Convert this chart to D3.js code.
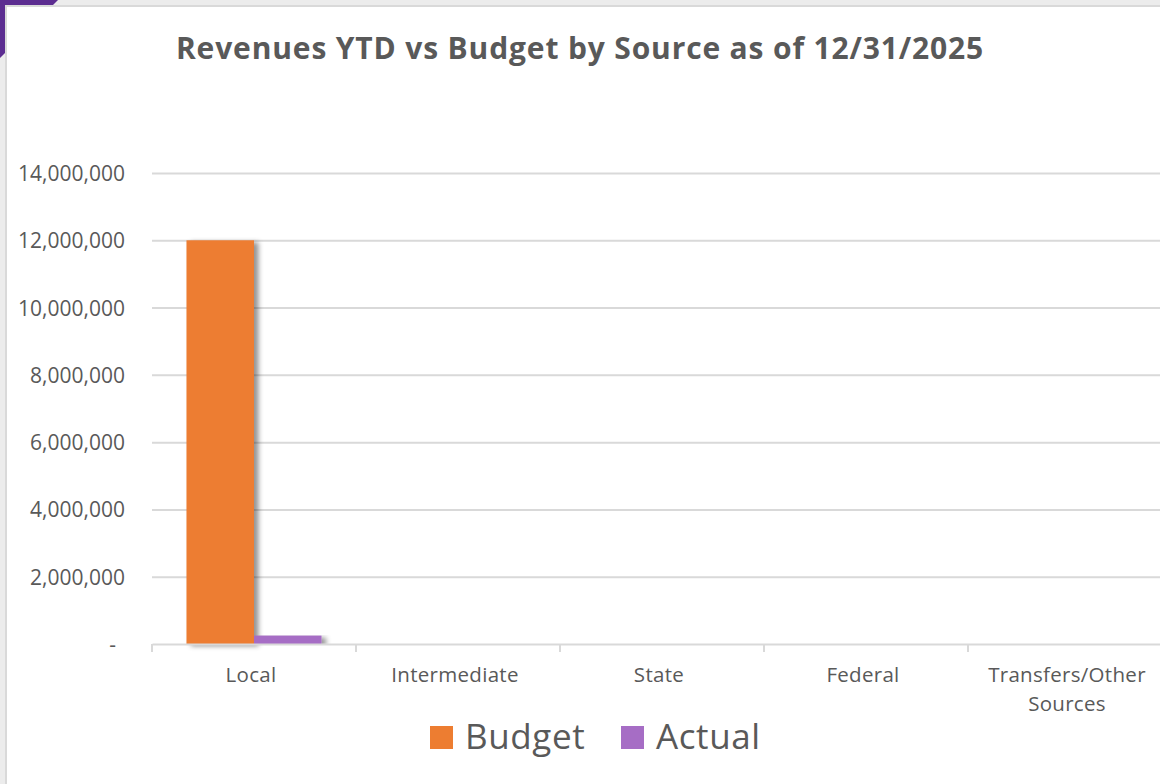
<!DOCTYPE html>
<html>
<head>
<meta charset="utf-8">
<script src="https://cdn.jsdelivr.net/npm/d3@7/dist/d3.min.js"></script>
<style>
  html, body { margin: 0; padding: 0; background: #ffffff; }
  svg { display: block; }
  text { font-family: "Open Sans", Lato, sans-serif; }
</style>
</head>
<body>
<svg id="chart" width="1160" height="784"></svg>
<script>
// Revenue sources and the two series shown for each
const categories = ["Local", "Intermediate", "State", "Federal", "Transfers/Other Sources"];
const categoryLines = [["Local"], ["Intermediate"], ["State"], ["Federal"], ["Transfers/Other", "Sources"]];
const seriesNames = ["Budget", "Actual"];
const budgetValues = [12000000, 0, 0, 0, 0];
const actualValues = [250000, 0, 0, 0, 0];
const yTicks = [0, 2000000, 4000000, 6000000, 8000000, 10000000, 12000000, 14000000];
const titleText = "Revenues YTD vs Budget by Source as of 12/31/2025";

const colors = { Budget: "#ED7D31", Actual: "#A66DC5" };
const textColor = "#595959";
const gridColor = "#d9d9d9";

const svg = d3.select("#chart");
const W = 1160, H = 784;

// Frame: light strip, purple corner accent, white panel
svg.append("rect").attr("width", W).attr("height", H).attr("fill", "#ececec");
svg.append("polygon").attr("points", "0,0 58,0 0,58").attr("fill", "#5C2D91");
svg.append("rect").attr("x", 5).attr("y", 5).attr("width", W).attr("height", H).attr("fill", "#d9d9d9");
svg.append("rect").attr("x", 7).attr("y", 7).attr("width", W).attr("height", H).attr("fill", "#ffffff");

// Bar shadow
const defs = svg.append("defs");
const f = defs.append("filter").attr("id", "barShadow")
  .attr("x", "-20%").attr("y", "-5%").attr("width", "160%").attr("height", "115%");
f.append("feDropShadow").attr("dx", 4.5).attr("dy", 2).attr("stdDeviation", 2.8)
  .attr("flood-color", "#000").attr("flood-opacity", 0.42);

// Scales
const plot = { left: 152, right: 1172, top: 173, bottom: 644 };
const x = d3.scaleBand().domain(categories).range([plot.left, plot.right])
  .paddingInner(0.338).paddingOuter(0.169);
const xs = d3.scaleBand().domain(seriesNames).range([0, x.bandwidth()]);
const y = d3.scaleLinear().domain([0, 14000000]).range([plot.bottom, plot.top]);

// Title
svg.append("text").attr("x", 580).attr("y", 59).attr("text-anchor", "middle")
  .attr("font-size", 30).attr("font-weight", 700).attr("letter-spacing", 0.85)
  .attr("fill", textColor)
  .text(titleText);

// Gridlines and value labels
const yAxisG = svg.append("g").attr("transform", `translate(${plot.left},0)`)
  .call(d3.axisLeft(y).tickValues(yTicks)
    .tickSize(-(plot.right - plot.left)).tickPadding(27)
    .tickFormat(d => d === 0 ? "-" : d3.format(",")(d)));
yAxisG.select(".domain").remove();
yAxisG.selectAll(".tick line").attr("stroke", gridColor).attr("stroke-width", 2)
  .filter(d => d === 0).remove();
yAxisG.selectAll(".tick text").attr("font-size", 21).attr("fill", textColor)
  .attr("font-family", "'Open Sans', sans-serif")
  .attr("dy", "0.36em")
  .attr("dx", d => d === 0 ? -9 : 0);

// Bars
const rows = categories.map((c, i) => ({ cat: c, Budget: budgetValues[i], Actual: actualValues[i] }));
const groups = svg.append("g").selectAll("g").data(rows).join("g")
  .attr("transform", d => `translate(${x(d.cat)},0)`);
groups.selectAll("rect")
  .data(d => seriesNames.map(s => ({ s, v: d[s] })).filter(e => e.v > 0))
  .join("rect")
  .attr("x", e => xs(e.s))
  .attr("y", e => y(e.v))
  .attr("width", xs.bandwidth())
  .attr("height", e => y(0) - y(e.v))
  .attr("fill", e => colors[e.s])
  .attr("filter", "url(#barShadow)");

// Category axis
const xAxisG = svg.append("g").attr("transform", `translate(0,${plot.bottom})`)
  .call(d3.axisBottom(x).tickSize(0).tickPadding(0).tickFormat(""));
xAxisG.select(".domain").attr("stroke", gridColor).attr("stroke-width", 2);
xAxisG.selectAll(".tick").remove();
const step = x.step();
d3.range(categories.length + 1).forEach(i => {
  const bx = plot.left + i * step;
  xAxisG.append("line").attr("x1", bx).attr("x2", bx).attr("y1", 0).attr("y2", 8)
    .attr("stroke", gridColor).attr("stroke-width", 2);
});
categories.forEach((c, i) => {
  const cx = x(c) + x.bandwidth() / 2 - 3;
  const t = svg.append("text").attr("x", cx).attr("y", 682)
    .attr("text-anchor", "middle").attr("font-size", 20.5).attr("letter-spacing", 0.3)
    .attr("fill", textColor);
  categoryLines[i].forEach((ln, j) => {
    t.append("tspan").attr("x", cx).attr("dy", j === 0 ? 0 : 29).text(ln);
  });
});

// Legend
const legend = [
  { name: "Budget", sx: 430, tx: 465 },
  { name: "Actual", sx: 621, tx: 656 }
];
legend.forEach(l => {
  svg.append("rect").attr("x", l.sx).attr("y", 726).attr("width", 23).attr("height", 23)
    .attr("fill", colors[l.name]);
  svg.append("text").attr("x", l.tx).attr("y", 749).attr("font-size", 35)
    .attr("letter-spacing", 0.6)
    .attr("fill", textColor).text(l.name);
});
</script>
</body>
</html>
